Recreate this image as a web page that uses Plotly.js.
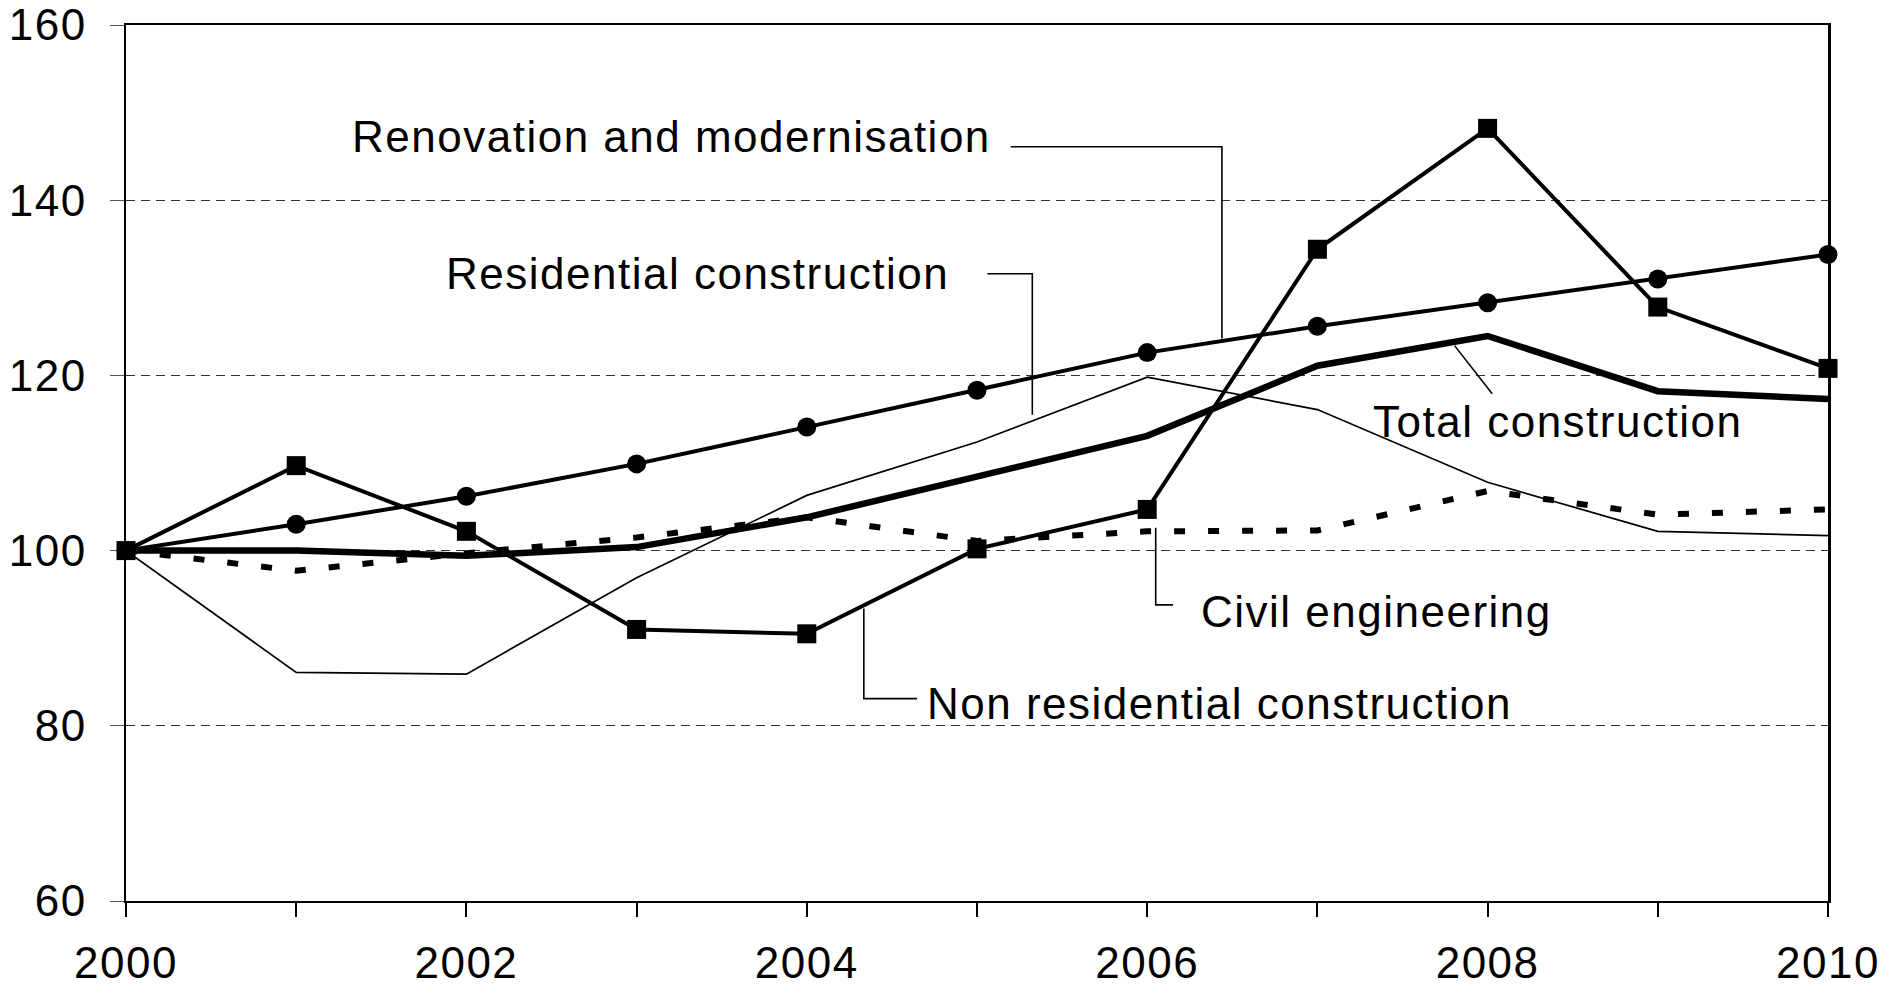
<!DOCTYPE html>
<html>
<head>
<meta charset="utf-8">
<script src="https://cdn.plot.ly/plotly-3.0.1.min.js"></script>
<style>
  html, body { margin: 0; padding: 0; background: #fff; }
  #chart { width: 1903px; height: 986px; }
  .annotation-text, .xtick text, .ytick text { letter-spacing: 1.5px; }
</style>
</head>
<body>
<div id="chart"></div>
<script>
const years = [2000, 2001, 2002, 2003, 2004, 2005, 2006, 2007, 2008, 2009, 2010];

const renovation    = [100, 103.0, 106.2, 109.9, 114.1, 118.3, 122.6, 125.6, 128.3, 131.0, 133.8];
const nonResidential = [100, 109.7, 102.2, 91.0, 90.5, 100.2, 104.7, 134.4, 148.2, 127.8, 120.8];
const totalConstr   = [100, 100.0, 99.4, 100.4, 103.8, 108.5, 113.1, 121.1, 124.5, 118.2, 117.3];
const residential   = [100, 86.1, 85.9, 96.9, 106.3, 112.4, 119.8, 116.1, 107.8, 102.2, 101.7];
const civilEng      = [100, 97.7, 99.7, 101.5, 103.8, 101.1, 102.2, 102.3, 106.8, 104.1, 104.7];

const yTicks = [60, 80, 100, 120, 140, 160];
const xLabels = years.map(y => (y % 2 === 0 ? String(y) : ''));

const FONT = 'Liberation Sans, Arial, sans-serif';

const traces = [
    { x: years, y: residential, mode: 'lines', name: 'Residential construction',
      line: { color: '#000', width: 1.7 } },
    { x: years, y: civilEng, mode: 'lines', name: 'Civil engineering',
      line: { color: '#000', width: 6, dash: '11px,23px' } },
    { x: years, y: totalConstr, mode: 'lines', name: 'Total construction',
      line: { color: '#000', width: 6.5 } },
    { x: years, y: renovation, mode: 'lines+markers', name: 'Renovation and modernisation',
      line: { color: '#000', width: 4 },
      marker: { symbol: 'circle', size: 19, color: '#000' } },
    { x: years, y: nonResidential, mode: 'lines+markers', name: 'Non residential construction',
      line: { color: '#000', width: 4 },
      marker: { symbol: 'square', size: 19, color: '#000' } }
];
traces.forEach(t => { t.cliponaxis = false; t.hoverinfo = 'skip'; });

// label text and its connector line
function label(text, x, y) {
    return { text: text, x: x, y: y, xref: 'x', yref: 'y', showarrow: false,
             xanchor: 'left', yanchor: 'middle', borderpad: 0, borderwidth: 0,
             font: { family: FONT, size: 44, color: '#000' } };
}
function connector(pts) {
    const path = pts.map((p, i) => (i === 0 ? 'M' : 'L') + p[0] + ',' + p[1]).join(' ');
    return { type: 'path', xref: 'x', yref: 'y', path: path,
             line: { color: '#000', width: 1.6 } };
}

const annotations = [
    label('Renovation and modernisation', 2001.327, 147.3),
    label('Residential construction', 2001.880, 131.6),
    label('Total construction', 2007.324, 114.7),
    label('Civil engineering', 2006.318, 93.0),
    label('Non residential construction', 2004.707, 82.5)
];

const shapes = [
    connector([[2005.198, 146.1], [2006.439, 146.1], [2006.439, 124.2]]),
    connector([[2005.061, 131.6], [2005.325, 131.6], [2005.325, 115.5]]),
    connector([[2007.806, 123.4], [2008.027, 117.9]]),
    connector([[2006.050, 102.6], [2006.050, 93.8], [2006.152, 93.8]]),
    connector([[2004.335, 93.4], [2004.335, 83.1], [2004.648, 83.1]])
];

const layout = {
    width: 1903,
    height: 986,
    margin: { l: 126, r: 75, t: 25, b: 85 },
    paper_bgcolor: '#fff',
    plot_bgcolor: '#fff',
    showlegend: false,
    font: { family: FONT, size: 44, color: '#000' },
    xaxis: {
        range: [2000, 2010],
        tickmode: 'array',
        tickvals: years,
        ticktext: xLabels,
        ticks: 'outside',
        ticklen: 14,
        tickwidth: 2,
        tickcolor: '#000',
        ticklabelstandoff: 8,
        showline: true,
        linecolor: '#000',
        linewidth: 2,
        mirror: true,
        showgrid: false,
        zeroline: false,
        layer: 'below traces',
        tickfont: { family: FONT, size: 44, color: '#000' }
    },
    yaxis: {
        range: [60, 160],
        tickmode: 'array',
        tickvals: yTicks,
        ticks: 'outside',
        ticklen: 14,
        tickwidth: 1,
        tickcolor: '#555',
        ticklabelstandoff: 14,
        showline: true,
        linecolor: '#000',
        linewidth: 2.5,
        mirror: true,
        showgrid: true,
        gridcolor: '#333',
        gridwidth: 1,
        griddash: '9px,6px',
        zeroline: false,
        layer: 'below traces',
        tickfont: { family: FONT, size: 44, color: '#000' }
    },
    annotations: annotations,
    shapes: shapes
};

Plotly.newPlot('chart', traces, layout, { staticPlot: true, displayModeBar: false });
</script>
</body>
</html>
